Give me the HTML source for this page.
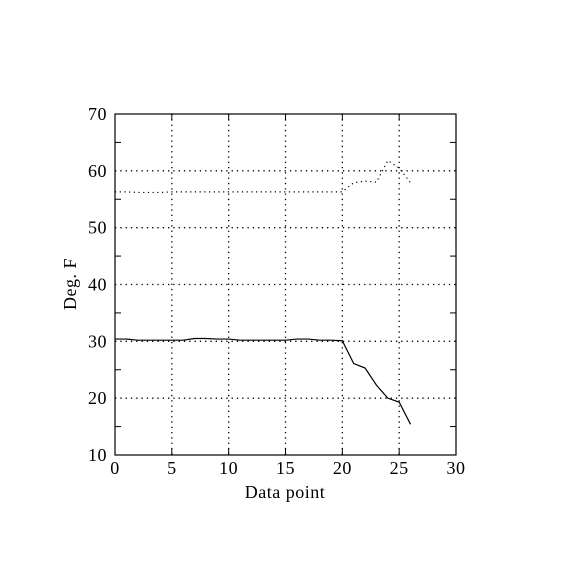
<!DOCTYPE html>
<html><head><style>body{margin:0;background:#fff}svg{display:block}text{font-family:"Liberation Serif",serif;font-size:18px;letter-spacing:0.5px;fill:#000}</style></head>
<body>
<svg id="chart" width="570" height="570" xmlns="http://www.w3.org/2000/svg">
<g id="grid"></g>
<g id="axes"></g>
<g id="series"></g>
<text x="285" y="498" text-anchor="middle">Data point</text>
<text transform="translate(76,284) rotate(-90)" text-anchor="middle">Deg. F</text>
</svg>
<script>
const xTicks=[0,5,10,15,20,25,30];
const yTicks=[10,20,30,40,50,60,70];
const solidVals=[30.4,30.4,30.2,30.2,30.2,30.2,30.2,30.5,30.5,30.4,30.4,30.2,30.2,30.2,30.2,30.2,30.4,30.4,30.2,30.2,30.1,26.1,25.3,22.3,20.0,19.3,15.4];
const dottedVals=[56.3,56.3,56.2,56.2,56.2,56.3,56.3,56.3,56.3,56.3,56.3,56.3,56.3,56.3,56.3,56.3,56.3,56.3,56.3,56.3,56.3,57.9,58.2,58.0,61.8,60.5,57.9];
const L=115,R=456,T=114,B=455;
const xs=v=>L+(v-0)/30*(R-L), ys=v=>B-(v-10)/60*(B-T);
const NS='http://www.w3.org/2000/svg';
function mk(tag,at,parent){const e=document.createElementNS(NS,tag);for(const k in at)e.setAttribute(k,at[k]);parent.appendChild(e);return e;}
const grid=document.getElementById('grid'),axes=document.getElementById('axes'),series=document.getElementById('series');
xTicks.forEach(t=>{const x=xs(t);
 if(t>0&&t<30){const g=mk('line',{x1:x,x2:x,y1:T,y2:B,stroke:'#000','stroke-width':1.3,'stroke-dasharray':'1.3 4'},grid);
 
 
 mk('line',{x1:x,x2:x,y1:B-6,y2:B,stroke:'#000'},axes);mk('line',{x1:x,x2:x,y1:T,y2:T+6,stroke:'#000'},axes);}
 const lb=mk('text',{x:x,y:474,'text-anchor':'middle'},axes);lb.textContent=t;
 
 });
yTicks.forEach(t=>{const y=ys(t);
 if(t>10&&t<70){const g=mk('line',{x1:L,x2:R,y1:y,y2:y,stroke:'#000','stroke-width':1.3,'stroke-dasharray':'1.3 4'},grid);
 
 }
 const lb=mk('text',{x:107,y:y+6,'text-anchor':'end'},axes);lb.textContent=t;
 
 });
for(let v=15;v<70;v+=10){const y=ys(v);
 mk('line',{x1:L,x2:L+6,y1:y,y2:y,stroke:'#000'},axes);mk('line',{x1:R-6,x2:R,y1:y,y2:y,stroke:'#000'},axes);}
const box=mk('rect',{x:L,y:T,width:R-L,height:B-T,fill:'none',stroke:'#000','stroke-width':1.2},axes);


const pts=a=>a.map((v,i)=>xs(i)+','+ys(v)).join(' ');
const s=mk('polyline',{points:pts(solidVals),fill:'none',stroke:'#000','stroke-width':1.2},series);


const d=mk('polyline',{points:pts(dottedVals),fill:'none',stroke:'#000','stroke-width':1.2,'stroke-dasharray':'1.2 3.5'},series);


</script>
</body></html>
